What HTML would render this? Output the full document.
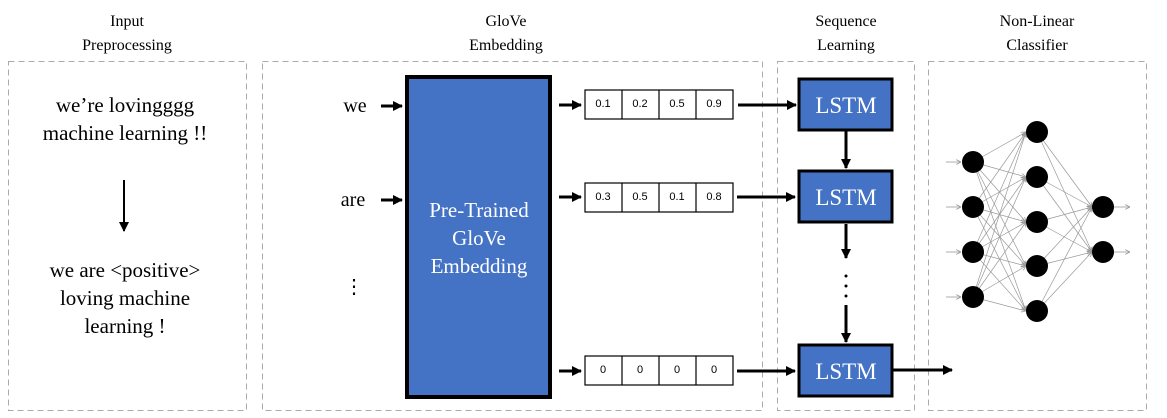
<!DOCTYPE html>
<html><head><style>body{margin:0;background:#fff}svg{display:block}</style></head><body>
<svg width="1167" height="418" xmlns="http://www.w3.org/2000/svg" font-family="Liberation Serif, serif">
<defs>
<marker id="a" markerWidth="10" markerHeight="10" refX="9" refY="5" orient="auto" markerUnits="userSpaceOnUse"><path d="M0,0 L10,5 L0,10 Z" fill="#000"/></marker>
<marker id="g" markerWidth="5" markerHeight="5" refX="5" refY="2.5" orient="auto" markerUnits="userSpaceOnUse"><path d="M0,0 L5,2.5 L0,5" fill="none" stroke="#999" stroke-width="0.8"/></marker>
</defs>
<g fill="none" stroke="#aaa" stroke-dasharray="6,4" stroke-width="1">
<rect x="8.5" y="61.5" width="238" height="349"/>
<rect x="262.5" y="61.5" width="500" height="349"/>
<rect x="777.5" y="61.5" width="137" height="349"/>
<rect x="928.5" y="61.5" width="218" height="349"/>
</g>
<g font-size="16" text-anchor="middle" fill="#000">
<text x="127" y="26">Input</text><text x="127" y="50">Preprocessing</text>
<text x="506" y="26">GloVe</text><text x="506" y="50">Embedding</text>
<text x="846" y="26">Sequence</text><text x="846" y="50">Learning</text>
<text x="1037" y="26">Non-Linear</text><text x="1037" y="50">Classifier</text>
</g>
<g font-size="21" text-anchor="middle">
<text x="125" y="112">we’re lovingggg</text>
<text x="125" y="140">machine learning !!</text>
<text x="125" y="277">we are &lt;positive&gt;</text>
<text x="125" y="305">loving machine</text>
<text x="125" y="333">learning !</text>
</g>
<line x1="124" y1="180" x2="124" y2="231" stroke="#000" stroke-width="2" marker-end="url(#a)"/>
<g font-size="20" text-anchor="middle">
<text x="355" y="112">we</text><text x="353" y="206">are</text><text x="354" y="293">⋮</text>
</g>
<g stroke="#000" stroke-width="3" marker-end="url(#a)">
<line x1="381" y1="106" x2="402" y2="106"/>
<line x1="381" y1="200" x2="402" y2="200"/>
<line x1="559" y1="105" x2="581" y2="105"/>
<line x1="559" y1="197" x2="581" y2="197"/>
<line x1="559" y1="371" x2="581" y2="371"/>
<line x1="738" y1="105" x2="796" y2="105"/>
<line x1="737" y1="197" x2="795" y2="197"/>
<line x1="737" y1="371" x2="795" y2="371"/>
<line x1="846" y1="131" x2="846" y2="168"/>
<line x1="846" y1="224" x2="846" y2="258"/>
<line x1="846" y1="305" x2="846" y2="342"/>
<line x1="893" y1="370" x2="952" y2="370"/>
</g>
<g fill="#000"><circle cx="846" cy="276" r="1.5"/><circle cx="846" cy="286" r="1.5"/><circle cx="846" cy="296" r="1.5"/></g>
<rect x="407" y="77" width="143" height="320" fill="#4472C4" stroke="#000" stroke-width="4"/>
<g font-size="21" fill="#fff" text-anchor="middle">
<text x="479" y="217">Pre-Trained</text><text x="479" y="245">GloVe</text><text x="479" y="273">Embedding</text>
</g>
<g stroke="#000" stroke-width="1.2" fill="#fff">
<rect x="585" y="90" width="148" height="29"/><rect x="585" y="183" width="148" height="29"/><rect x="585" y="356" width="148" height="29"/>
<path d="M622,90v29M659,90v29M696,90v29M622,183v29M659,183v29M696,183v29M622,356v29M659,356v29M696,356v29"/>
</g>
<g font-family="Liberation Sans, sans-serif" font-size="11" text-anchor="middle">
<text x="603" y="107">0.1</text><text x="640" y="107">0.2</text><text x="677" y="107">0.5</text><text x="714" y="107">0.9</text>
<text x="603" y="200">0.3</text><text x="640" y="200">0.5</text><text x="677" y="200">0.1</text><text x="714" y="200">0.8</text>
<text x="603" y="373">0</text><text x="640" y="373">0</text><text x="677" y="373">0</text><text x="714" y="373">0</text>
</g>
<g fill="#4472C4" stroke="#000" stroke-width="3">
<rect x="799" y="79" width="93" height="51"/><rect x="799" y="171" width="93" height="51"/><rect x="799" y="345" width="93" height="51"/>
</g>
<g font-size="23" fill="#fff" text-anchor="middle">
<text x="846" y="113">LSTM</text><text x="846" y="205">LSTM</text><text x="846" y="379">LSTM</text>
</g>
<g stroke="#999" stroke-width="0.8" marker-end="url(#g)">
<line x1="946" y1="162" x2="961" y2="162"/><line x1="946" y1="207" x2="961" y2="207"/><line x1="946" y1="252" x2="961" y2="252"/><line x1="946" y1="297" x2="961" y2="297"/>
<line x1="1114" y1="207" x2="1130" y2="207"/><line x1="1114" y1="252" x2="1130" y2="252"/>
</g>
<g stroke="#999" stroke-width="0.7" marker-end="url(#g)">
<line x1="973" y1="162" x2="1026" y2="132"/><line x1="973" y1="162" x2="1026" y2="177"/><line x1="973" y1="162" x2="1026" y2="222"/><line x1="973" y1="162" x2="1026" y2="266"/><line x1="973" y1="162" x2="1026" y2="311"/>
<line x1="973" y1="207" x2="1026" y2="132"/><line x1="973" y1="207" x2="1026" y2="177"/><line x1="973" y1="207" x2="1026" y2="222"/><line x1="973" y1="207" x2="1026" y2="266"/><line x1="973" y1="207" x2="1026" y2="311"/>
<line x1="973" y1="252" x2="1026" y2="132"/><line x1="973" y1="252" x2="1026" y2="177"/><line x1="973" y1="252" x2="1026" y2="222"/><line x1="973" y1="252" x2="1026" y2="266"/><line x1="973" y1="252" x2="1026" y2="311"/>
<line x1="973" y1="297" x2="1026" y2="132"/><line x1="973" y1="297" x2="1026" y2="177"/><line x1="973" y1="297" x2="1026" y2="222"/><line x1="973" y1="297" x2="1026" y2="266"/><line x1="973" y1="297" x2="1026" y2="311"/>
<line x1="1037" y1="132" x2="1092" y2="207"/><line x1="1037" y1="132" x2="1092" y2="252"/>
<line x1="1037" y1="177" x2="1092" y2="207"/><line x1="1037" y1="177" x2="1092" y2="252"/>
<line x1="1037" y1="222" x2="1092" y2="207"/><line x1="1037" y1="222" x2="1092" y2="252"/>
<line x1="1037" y1="266" x2="1092" y2="207"/><line x1="1037" y1="266" x2="1092" y2="252"/>
<line x1="1037" y1="311" x2="1092" y2="207"/><line x1="1037" y1="311" x2="1092" y2="252"/>
</g>
<g fill="#000">
<circle cx="973" cy="162" r="11"/><circle cx="973" cy="207" r="11"/><circle cx="973" cy="252" r="11"/><circle cx="973" cy="297" r="11"/>
<circle cx="1037" cy="132" r="11"/><circle cx="1037" cy="177" r="11"/><circle cx="1037" cy="222" r="11"/><circle cx="1037" cy="266" r="11"/><circle cx="1037" cy="311" r="11"/>
<circle cx="1103" cy="207" r="11"/><circle cx="1103" cy="252" r="11"/>
</g>
</svg>
</body></html>
